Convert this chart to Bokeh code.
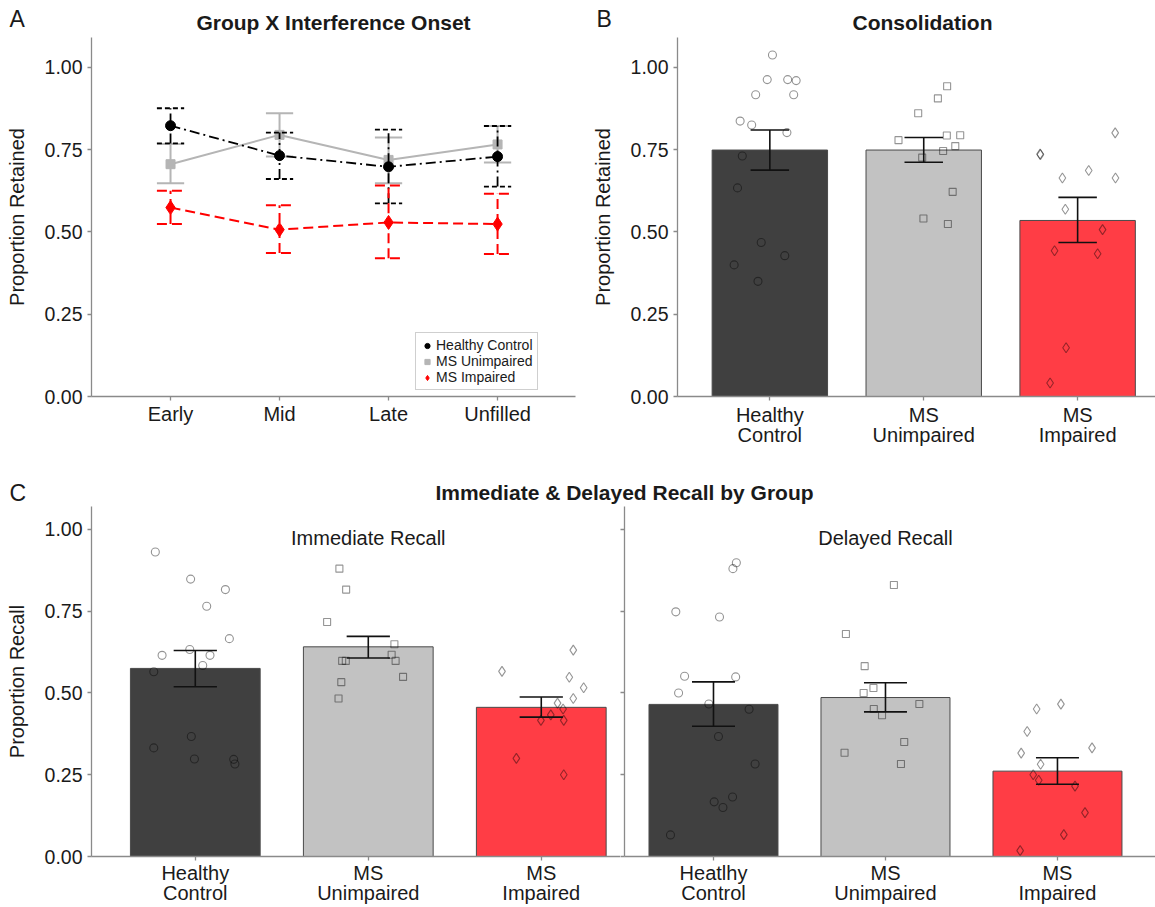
from bokeh.plotting import figure
from bokeh.layouts import column, row
from bokeh.models import (FixedTicker, NumeralTickFormatter, Label, Legend,
                          LegendItem, Range1d)
from bokeh.embed import file_html
from bokeh.resources import INLINE

FONT = "Liberation Sans"
AX = "#8a8a8a"
TXT = "#1a1a1a"

# ---------------- data ----------------
y_ticks = [0, 0.25, 0.5, 0.75, 1.0]
series = ["Healthy Control", "MS Unimpaired", "MS Impaired"]

# Panel A
onsets = ["Early", "Mid", "Late", "Unfilled"]
hc_mean = [0.823, 0.732, 0.698, 0.729]
hc_lo = [0.769, 0.661, 0.587, 0.638]
hc_hi = [0.876, 0.802, 0.811, 0.822]
msu_mean = [0.706, 0.795, 0.719, 0.766]
msu_lo = [0.648, 0.729, 0.648, 0.711]
msu_hi = [0.767, 0.861, 0.787, 0.822]
msi_mean = [0.574, 0.507, 0.529, 0.524]
msi_lo = [0.524, 0.436, 0.420, 0.433]
msi_hi = [0.625, 0.581, 0.641, 0.616]

# Panel B
groups_b = ["Healthy\nControl", "MS\nUnimpaired", "MS\nImpaired"]
cons_mean = [0.749, 0.749, 0.535]
cons_lo = [0.688, 0.712, 0.468]
cons_hi = [0.810, 0.787, 0.605]
cons_hc_jit = [0.017, -0.017, 0.116, 0.171, -0.092, 0.155, -0.193, -0.118, 0.111, -0.179, -0.210, -0.056, 0.097, -0.232, -0.077]
cons_hc_val = [1.038, 0.963, 0.963, 0.960, 0.917, 0.917, 0.837, 0.825, 0.802, 0.731, 0.634, 0.468, 0.428, 0.400, 0.350]
cons_msu_jit = [0.152, 0.092, -0.036, -0.164, 0.150, 0.237, 0.205, 0.126, -0.010, 0.188, -0.002, 0.157]
cons_msu_val = [0.943, 0.906, 0.861, 0.779, 0.793, 0.794, 0.761, 0.746, 0.726, 0.622, 0.541, 0.524]
cons_msi_jit = [0.244, -0.244, -0.242, -0.099, 0.072, 0.246, -0.080, 0.162, -0.150, 0.130, -0.075, -0.179]
cons_msi_val = [0.801, 0.737, 0.735, 0.664, 0.687, 0.664, 0.569, 0.507, 0.443, 0.434, 0.148, 0.041]

# Panel C - immediate
groups_imm = ["Healthy\nControl", "MS\nUnimpaired", "MS\nImpaired"]
imm_mean = [0.575, 0.641, 0.456]
imm_lo = [0.519, 0.607, 0.426]
imm_hi = [0.630, 0.673, 0.4875]
imm_hc_jit = [-0.231, -0.027, 0.174, 0.066, 0.197, -0.032, -0.192, 0.085, 0.043, -0.240, -0.023, -0.240, -0.005, 0.222, 0.229]
imm_hc_val = [0.931, 0.848, 0.816, 0.765, 0.666, 0.633, 0.615, 0.615, 0.584, 0.565, 0.367, 0.332, 0.298, 0.297, 0.283]
imm_msu_jit = [-0.167, -0.128, -0.238, 0.151, 0.135, -0.151, -0.130, 0.158, 0.201, -0.156, -0.172]
imm_msu_val = [0.880, 0.816, 0.717, 0.649, 0.617, 0.598, 0.598, 0.598, 0.549, 0.533, 0.483]
imm_msi_jit = [0.185, -0.227, 0.162, 0.245, 0.185, 0.094, 0.126, 0.055, -0.002, 0.130, -0.144, 0.130]
imm_msi_val = [0.631, 0.566, 0.548, 0.516, 0.483, 0.469, 0.451, 0.433, 0.416, 0.416, 0.300, 0.250]

# Panel C - delayed
groups_del = ["Heatlhy\nControl", "MS\nUnimpaired", "MS\nImpaired"]
del_mean = [0.465, 0.486, 0.261]
del_lo = [0.398, 0.442, 0.221]
del_hi = [0.534, 0.531, 0.302]
del_hc_jit = [0.133, 0.113, -0.219, 0.035, -0.168, 0.129, -0.203, -0.027, 0.207, 0.029, 0.242, 0.111, 0.004, 0.055, -0.250]
del_hc_val = [0.898, 0.880, 0.748, 0.732, 0.551, 0.549, 0.500, 0.466, 0.450, 0.367, 0.283, 0.182, 0.167, 0.150, 0.066]
del_msu_jit = [0.049, -0.230, -0.121, -0.070, -0.127, -0.068, -0.020, 0.197, 0.109, -0.238, 0.090]
del_msu_val = [0.830, 0.680, 0.582, 0.515, 0.500, 0.451, 0.432, 0.466, 0.350, 0.317, 0.283]
del_msi_jit = [0.020, -0.121, -0.176, 0.201, -0.211, -0.098, -0.141, -0.109, 0.102, 0.160, 0.037, -0.217]
del_msi_val = [0.466, 0.451, 0.382, 0.332, 0.316, 0.282, 0.250, 0.233, 0.215, 0.134, 0.067, 0.018]

bar_colors = ["#404040", "#c2c2c2", "#ff3d45"]
pt_markers = ["circle", "square", "diamond"]
pt_sizes = [8, 7, 10]
CAP = 0.125


# ---------------- helpers ----------------
def mkfig(width, height, xr, yr, mbl, mbr, mbt, mbb):
    p = figure(width=width, height=height, x_range=Range1d(*xr), y_range=Range1d(*yr),
               output_backend="svg", toolbar_location=None,
               min_border_left=mbl, min_border_right=mbr,
               min_border_top=mbt, min_border_bottom=mbb)
    p.outline_line_color = None
    p.grid.visible = False
    return p


def style_axes(p, xlabels, ylabel, show_ylabels=True, xstandoff=2):
    xa = p.xaxis[0]
    ya = p.yaxis[0]
    for ax in (xa, ya):
        ax.axis_line_color = AX
        ax.axis_line_width = 1.3
        ax.major_tick_line_color = AX
        ax.major_tick_line_width = 1.3
        ax.major_tick_out = 4
        ax.major_tick_in = 0
        ax.minor_tick_line_color = None
        ax.major_label_text_font = FONT
        ax.major_label_text_color = TXT
    xa.major_label_text_font_size = "20px"
    ya.major_label_text_font_size = "19.5px"
    xa.ticker = FixedTicker(ticks=list(range(1, len(xlabels) + 1)))
    xa.major_label_overrides = {i + 1: lab for i, lab in enumerate(xlabels)}
    xa.major_label_standoff = xstandoff
    xa.major_label_text_line_height = 0.95
    ya.ticker = FixedTicker(ticks=y_ticks)
    if show_ylabels:
        ya.formatter = NumeralTickFormatter(format="0.00")
        ya.major_label_standoff = 5
        ya.axis_label = ylabel
        ya.axis_label_text_font = FONT
        ya.axis_label_text_font_size = "20px"
        ya.axis_label_text_font_style = "normal"
        ya.axis_label_text_color = TXT
        ya.axis_label_standoff = 14
    else:
        ya.major_label_overrides = {t: "" for t in y_ticks}
        ya.major_label_standoff = 0


def errorbars(p, xs, lo, hi, color="black", width=1.6, dash="solid", cap_dash=None):
    cd = dash if cap_dash is None else cap_dash
    p.segment(x0=xs, y0=lo, x1=xs, y1=hi, line_color=color, line_width=width, line_dash=dash)
    p.segment(x0=[x - CAP for x in xs], y0=hi, x1=[x + CAP for x in xs], y1=hi,
              line_color=color, line_width=width, line_dash=cd)
    p.segment(x0=[x - CAP for x in xs], y0=lo, x1=[x + CAP for x in xs], y1=lo,
              line_color=color, line_width=width, line_dash=cd)


def bar_panel(p, means, lo, hi, jits, vals):
    xs = list(range(1, len(means) + 1))
    p.vbar(x=xs, top=means, width=0.75, bottom=0, fill_color=bar_colors,
           line_color="#4a4a4a", line_width=1)
    for i, (jit, val) in enumerate(zip(jits, vals)):
        p.scatter(x=[xs[i] + j for j in jit], y=val, marker=pt_markers[i], size=pt_sizes[i],
                  fill_color=None, line_color="black", line_alpha=0.42, line_width=1.1)
    errorbars(p, xs, lo, hi, color="#111111", width=1.6)


def strip(width, height):
    s = figure(width=width, height=height, x_range=Range1d(0, width), y_range=Range1d(0, height),
               output_backend="svg", toolbar_location=None, x_axis_type=None, y_axis_type=None,
               min_border=0)
    s.outline_line_color = None
    s.grid.visible = False
    return s


# ---------------- top strip ----------------
W = 1155
s1 = strip(W, 37)
s1.add_layout(Label(x=9, y=19, text="A", text_font=FONT, text_font_size="23px",
                    text_align="left", text_baseline="middle", text_color=TXT))
s1.add_layout(Label(x=333, y=15, text="Group X Interference Onset", text_font=FONT,
                    text_font_size="21px", text_font_style="bold", text_align="center",
                    text_baseline="middle", text_color=TXT))
s1.add_layout(Label(x=596, y=19, text="B", text_font=FONT, text_font_size="23px",
                    text_align="left", text_baseline="middle", text_color=TXT))
s1.add_layout(Label(x=922, y=15, text="Consolidation", text_font=FONT,
                    text_font_size="21px", text_font_style="bold", text_align="center",
                    text_baseline="middle", text_color=TXT))

# ---------------- panel A ----------------
pA = mkfig(580, 428, (0.275, 4.715), (0, 1.091), 91, 5, 0, 69)
style_axes(pA, onsets, "Proportion Retained")
xa = list(range(1, len(onsets) + 1))

GREY = "#b5b5b5"
# MS Unimpaired (grey, solid)
pA.line(xa, msu_mean, line_color=GREY, line_width=2)
errorbars(pA, xa, msu_lo, msu_hi, color=GREY, width=2)
r_msu = pA.scatter(xa, msu_mean, marker="square", size=9, fill_color=GREY, line_color=GREY)
# Healthy control (black, dash-dot)
pA.line(xa, hc_mean, line_color="black", line_width=1.8, line_dash="10 4 2 4")
errorbars(pA, xa, hc_lo, hc_hi, color="black", width=1.8, dash="10 4 2 4", cap_dash="5 3")
r_hc = pA.scatter(xa, hc_mean, marker="circle", size=10, fill_color="black", line_color="black")
# MS impaired (red, dashed)
pA.line(xa, msi_mean, line_color="#ff0000", line_width=2, line_dash="10 5")
errorbars(pA, xa, msi_lo, msi_hi, color="#ff0000", width=2, dash="10 5")
r_msi = pA.scatter(xa, msi_mean, marker="diamond", size=14, fill_color="#ff0000", line_color="#ff0000")

leg = Legend(items=[LegendItem(label=series[0], renderers=[r_hc]),
                    LegendItem(label=series[1], renderers=[r_msu]),
                    LegendItem(label=series[2], renderers=[r_msi])],
             location=(324, 6))
leg.label_text_font = FONT
leg.label_text_font_size = "14px"
leg.label_text_color = TXT
leg.label_text_line_height = 0.75
leg.label_height = 12
leg.glyph_height = 13
leg.glyph_width = 14
leg.label_standoff = 2
leg.spacing = 0
leg.padding = 4
leg.margin = 0
leg.border_line_color = "#a0a0a0"
leg.border_line_width = 1.5
pA.add_layout(leg)

# ---------------- panel B ----------------
pB = mkfig(575, 428, (0.4, 3.506), (0, 1.091), 97, 0, 0, 69)
style_axes(pB, groups_b, "Proportion Retained", xstandoff=3)
bar_panel(pB, cons_mean, cons_lo, cons_hi,
          [cons_hc_jit, cons_msu_jit, cons_msi_jit],
          [cons_hc_val, cons_msu_val, cons_msi_val])

# ---------------- strip C ----------------
s2 = strip(W, 41)
s2.add_layout(Label(x=9, y=14, text="C", text_font=FONT, text_font_size="23px",
                    text_align="left", text_baseline="middle", text_color=TXT))
s2.add_layout(Label(x=624, y=14, text="Immediate & Delayed Recall by Group", text_font=FONT,
                    text_font_size="21px", text_font_style="bold", text_align="center",
                    text_baseline="middle", text_color=TXT))

# ---------------- panel C ----------------
pC1 = mkfig(620, 401, (0.4, 3.458), (0, 1.07), 91, 0, 0, 49)
style_axes(pC1, groups_imm, "Proportion Recall", xstandoff=1)
bar_panel(pC1, imm_mean, imm_lo, imm_hi,
          [imm_hc_jit, imm_msu_jit, imm_msi_jit],
          [imm_hc_val, imm_msu_val, imm_msi_val])
pC1.add_layout(Label(x=2, y=0.975, text="Immediate Recall", text_font=FONT, text_font_size="20px",
                     text_align="center", text_baseline="middle", text_color=TXT))

pC2 = mkfig(535, 401, (0.4826, 3.570), (0, 1.07), 4, 0, 0, 49)
style_axes(pC2, groups_del, None, show_ylabels=False, xstandoff=1)
bar_panel(pC2, del_mean, del_lo, del_hi,
          [del_hc_jit, del_msu_jit, del_msi_jit],
          [del_hc_val, del_msu_val, del_msi_val])
pC2.add_layout(Label(x=2, y=0.975, text="Delayed Recall", text_font=FONT, text_font_size="20px",
                     text_align="center", text_baseline="middle", text_color=TXT))

layout = column(s1, row(pA, pB), s2, row(pC1, pC2))
open("out.html", "w").write(file_html(layout, INLINE))
